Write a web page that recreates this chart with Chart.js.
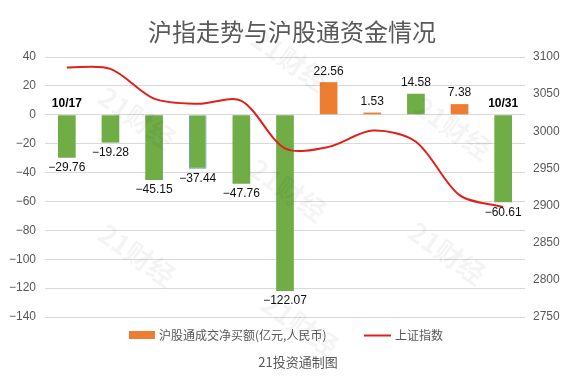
<!DOCTYPE html>
<html><head><meta charset="utf-8">
<script src="https://cdn.jsdelivr.net/npm/chart.js@4"></script>
<style>html,body{margin:0;padding:0;background:#fff;}canvas{display:block;}</style>
</head><body>
<canvas id="c" width="572" height="388"></canvas>
<script>
// ---- data ----
const categories = ['10/17','10/18','10/19','10/20','10/21','10/24','10/25','10/26','10/27','10/28','10/31'];
const netBuy = [-29.76,-19.28,-45.15,-37.44,-47.76,-122.07,22.56,1.53,14.58,7.38,-60.61];
const shIndex = [3086,3084,3044,3037,3041,2977,2979,3001,2986,2914,2898];
const leftTicks = [40,20,0,-20,-40,-60,-80,-100,-120,-140];
const rightTicks = [3100,3050,3000,2950,2900,2850,2800,2750];
const markedDates = ['10/17','10/31'];
const titleText = '沪指走势与沪股通资金情况';
const footerText = '21投资通制图';
const barLabel = '沪股通成交净买额(亿元,人民币)';
const lineLabel = '上证指数';
const watermarkText = '21财经';

// ---- styles ----
const GREEN = '#70AD47', ORANGE = '#ED7D31', RED = '#E0201B', GRAY = '#595959';
const barFill = [GREEN,GREEN,GREEN,GREEN,GREEN,GREEN,ORANGE,ORANGE,GREEN,ORANGE,GREEN];
const barBorder = barFill.map((c,i)=> i===3 ? '#5B9BD5' : c);
const FONT = '"Liberation Sans", Arial, sans-serif';
const CJK = '"Noto Sans CJK SC", sans-serif';
const watermarkPos = [[137,118],[137,255],[290,60],[288,190],[300,325],[453,128],[447,253]];

const fmt = v => (v < 0 ? '\u2212' + Math.abs(v) : String(v));

const decor = {
  id: 'decor',
  afterDatasetsDraw(chart) {
    const ctx = chart.ctx;
    const meta = chart.getDatasetMeta(0);
    const yScale = chart.scales.y;
    ctx.save();
    ctx.textAlign = 'center';
    ctx.textBaseline = 'middle';
    meta.data.forEach((bar, i) => {
      const v = netBuy[i];
      ctx.font = '12px ' + FONT;
      ctx.fillStyle = '#111';
      const txt = v < 0 ? '\u2212' + Math.abs(v).toFixed(2) : v.toFixed(2);
      ctx.fillText(txt, bar.x, v < 0 ? bar.y + 10 : bar.y - 11);
      if (markedDates.includes(categories[i])) {
        ctx.font = 'bold 12px ' + FONT;
        ctx.fillStyle = '#000';
        ctx.fillText(categories[i], bar.x, yScale.getPixelForValue(0) - 11);
      }
    });
    ctx.restore();
  },
  afterDraw(chart) {
    const ctx = chart.ctx;
    ctx.save();
    // title
    ctx.font = '24px ' + CJK;
    ctx.fillStyle = GRAY;
    ctx.textAlign = 'center';
    ctx.textBaseline = 'middle';
    ctx.fillText(titleText, 292, 32);
    // legend
    ctx.fillStyle = ORANGE;
    ctx.fillRect(129, 331, 26, 8);
    ctx.font = '12px ' + CJK;
    ctx.fillStyle = GRAY;
    ctx.textAlign = 'left';
    ctx.fillText(chart.data.datasets[0].label, 159, 335);
    ctx.strokeStyle = RED;
    ctx.lineWidth = 2;
    ctx.beginPath(); ctx.moveTo(364, 335.5); ctx.lineTo(391, 335.5); ctx.stroke();
    ctx.fillText(chart.data.datasets[1].label, 395, 335);
    // footer
    ctx.font = '13px ' + CJK;
    ctx.textAlign = 'center';
    ctx.fillText(footerText, 298, 362);
    // watermark
    ctx.font = 'bold 27px ' + CJK;
    ctx.fillStyle = 'rgba(0,0,0,0.045)';
    watermarkPos.forEach(([x,y]) => {
      ctx.save(); ctx.translate(x,y); ctx.rotate(35*Math.PI/180);
      ctx.fillText(watermarkText, 0, 0); ctx.restore();
    });
    ctx.restore();
  }
};

new Chart(document.getElementById('c'), {
  data: {
    labels: categories,
    datasets: [
      { type:'bar', label: barLabel, data: netBuy, yAxisID:'y', backgroundColor: barFill,
        borderColor: barBorder, borderWidth: barFill.map((c,i)=> i===3 ? 1 : 0),
        categoryPercentage: 1, barPercentage: 0.405, order: 2 },
      { type:'line', label: lineLabel, data: shIndex, yAxisID:'y1', borderColor: RED,
        borderWidth: 2, pointRadius: 0, tension: 0.3, fill: false, order: 1 }
    ]
  },
  options: {
    responsive: false,
    animation: false,
    layout: { padding: { top: 57, bottom: 71, left: 0, right: 0 } },
    plugins: { legend: { display:false }, title: { display:false }, tooltip: { enabled:false } },
    scales: {
      x: { type:'category', display:false, offset:true },
      y: { position:'left', min: leftTicks[leftTicks.length-1], max: leftTicks[0],
        ticks: { stepSize: leftTicks[0]-leftTicks[1], color: GRAY, padding: 9, font:{ size:12, family: FONT }, callback: v => fmt(v) },
        grid: { color:'#d9d9d9', drawTicks:false }, border: { display:false },
        afterFit(s){ s.width = 45; } },
      y1: { position:'right', min: rightTicks[rightTicks.length-1], max: rightTicks[0],
        ticks: { stepSize: rightTicks[0]-rightTicks[1], color: GRAY, padding: 8, font:{ size:12, family: FONT }, callback: v => String(v) },
        grid: { display:false, drawTicks:false }, border: { display:false },
        afterFit(s){ s.width = 47; } }
    }
  },
  plugins: [decor]
});
</script>
</body></html>
